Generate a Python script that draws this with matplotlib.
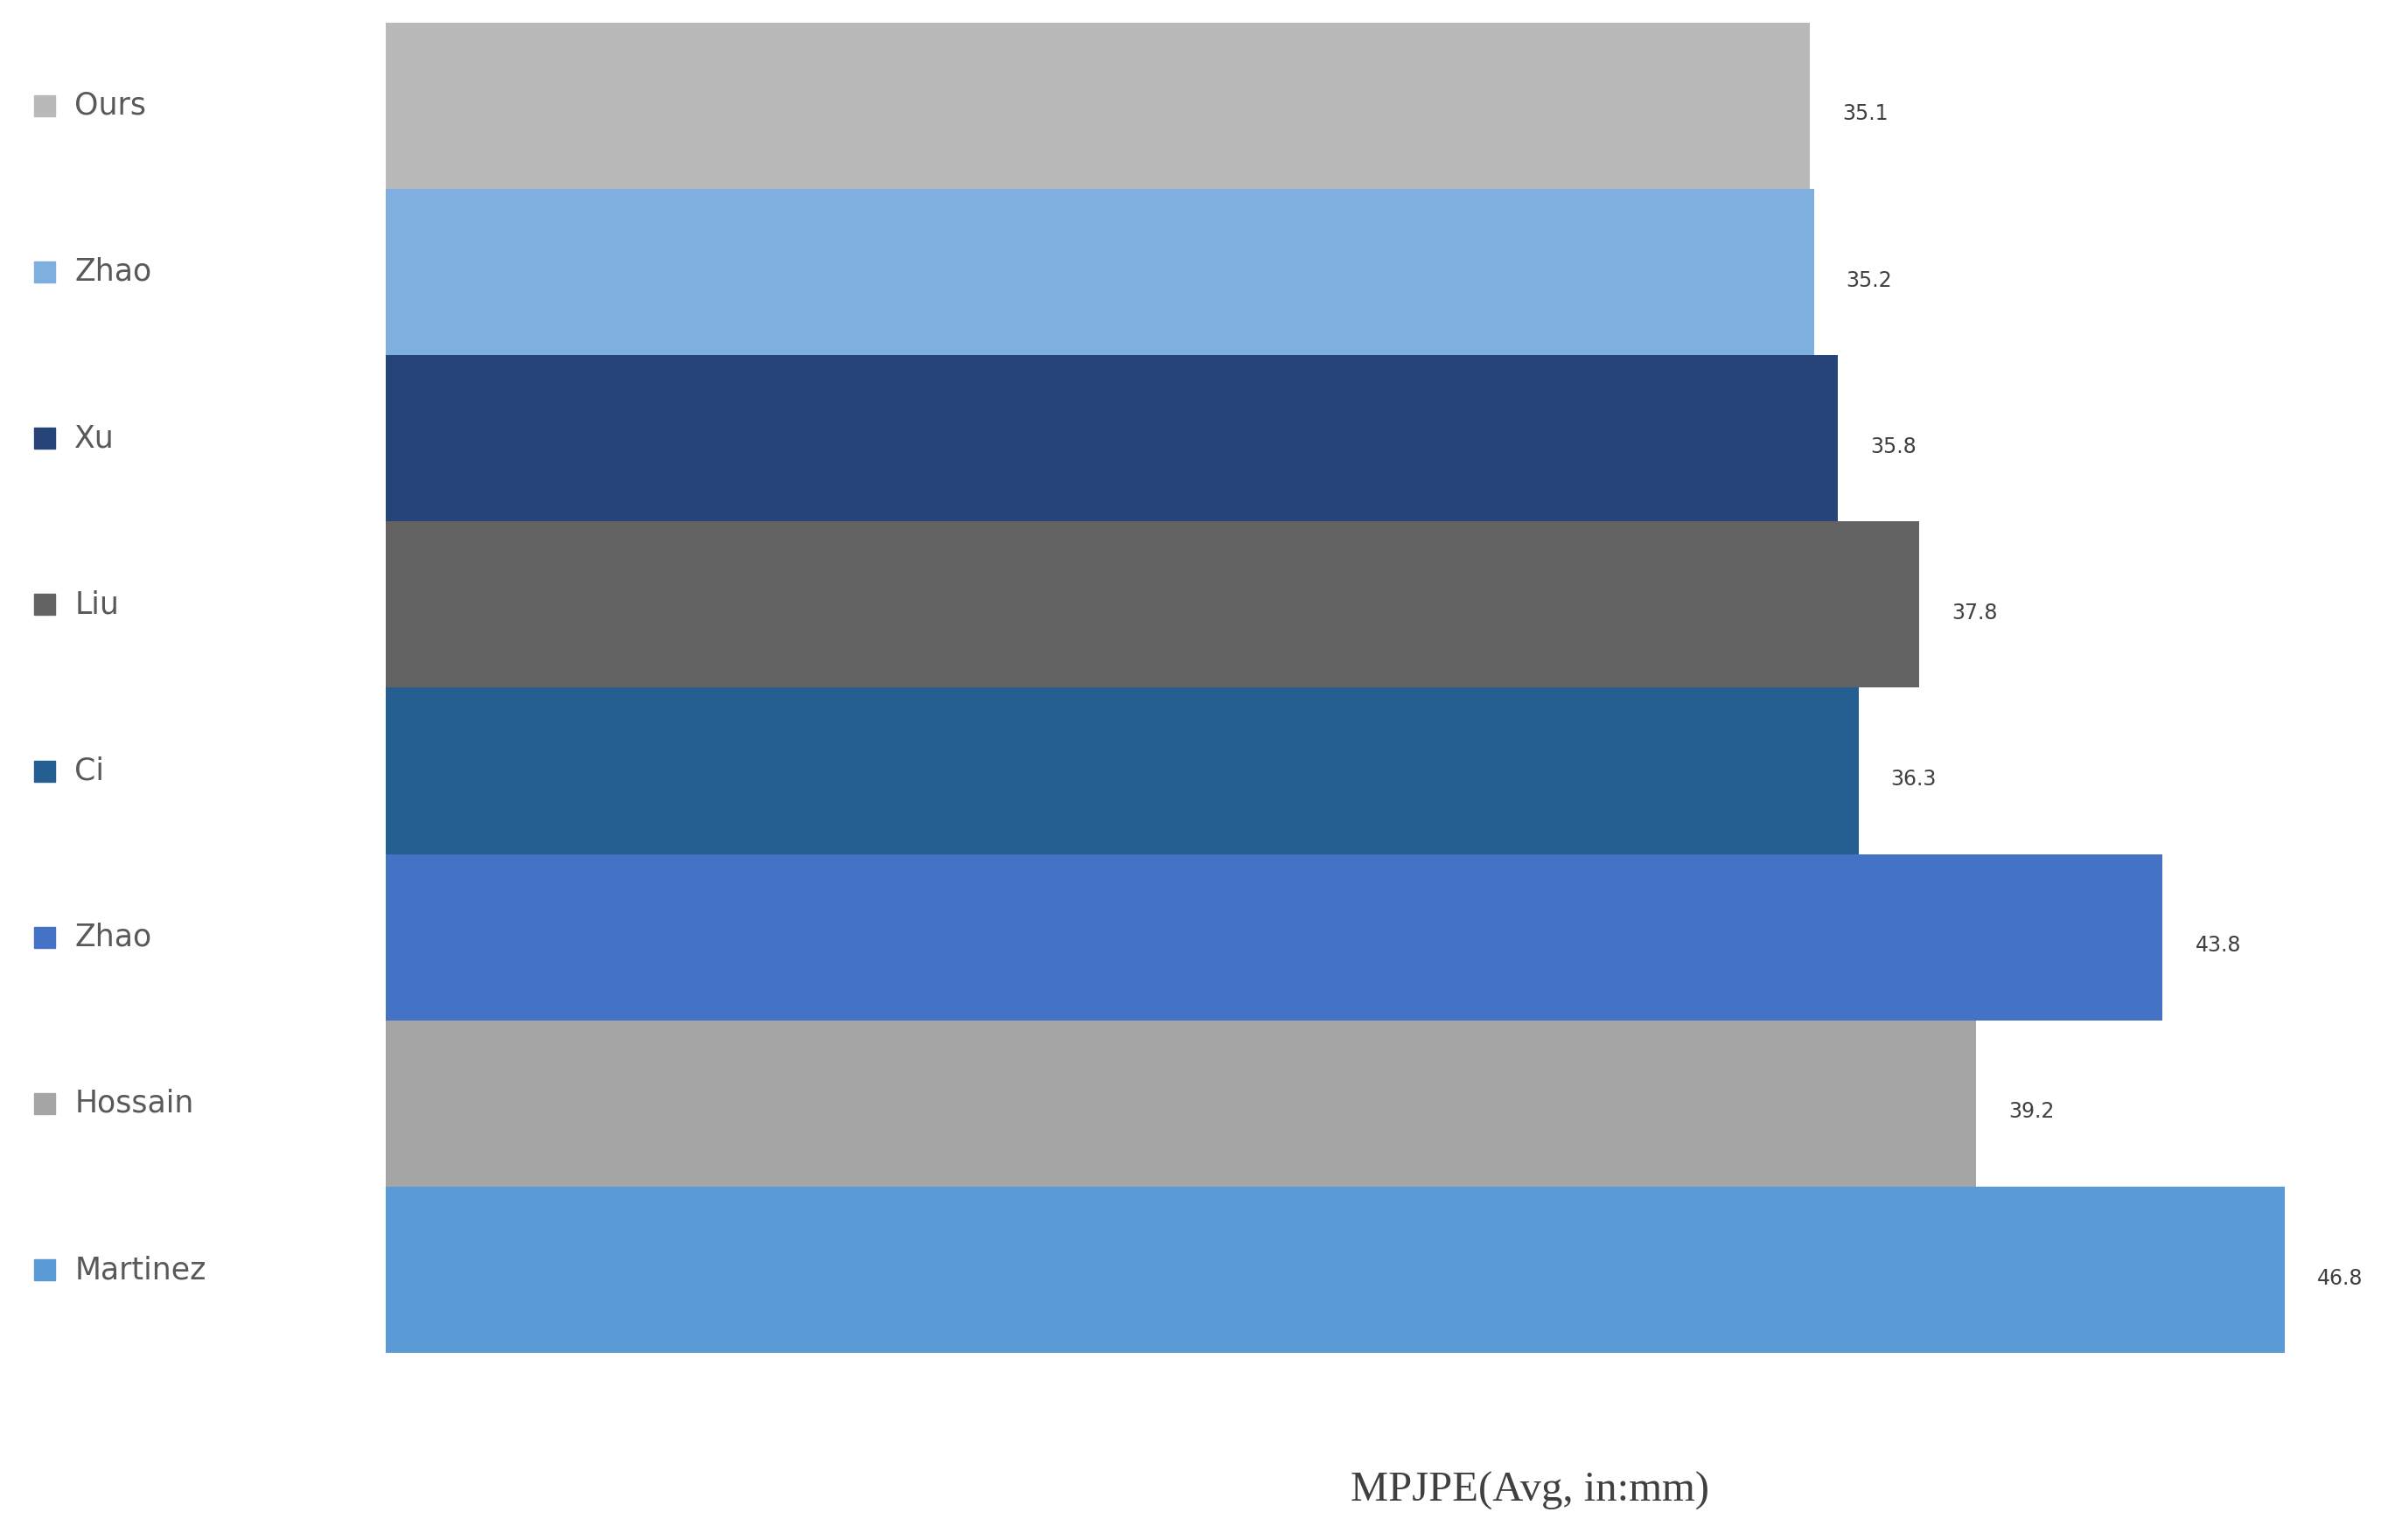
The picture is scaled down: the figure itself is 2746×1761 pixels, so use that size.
import matplotlib
matplotlib.use("Agg")
import matplotlib.pyplot as plt
from matplotlib.transforms import blended_transform_factory

methods = ["Ours", "Zhao", "Xu", "Liu", "Ci", "Zhao", "Hossain", "Martinez"]
values = [35.1, 35.2, 35.8, 37.8, 36.3, 43.8, 39.2, 46.8]
colors = ["#B9B9B9", "#7EAFDF", "#264478", "#636363", "#255E91", "#4472C4", "#A5A5A5", "#5B9BD5"]

fig = plt.figure(figsize=(27.46, 17.61), dpi=100)
ax = fig.add_axes([0.1606, 0.1214, 0.8394, 0.864])
y = list(range(len(methods)))
ax.barh(y, values, height=1.0, color=colors)
ax.set_ylim(len(methods) - 0.5, -0.5)
ax.set_xlim(0, 49.7)
for s in ax.spines.values():
    s.set_visible(False)
ax.set_xticks([]); ax.set_yticks([])
for i, v in enumerate(values):
    ax.text(v + 0.8, i + 0.05, f"{v}", va="center", ha="left", fontsize=17, color="#404040")
tr = blended_transform_factory(fig.transFigure, ax.transData)
for i, (m, c) in enumerate(zip(methods, colors)):
    ax.plot([0.0185], [i], marker="s", ms=17, color=c, transform=tr, clip_on=False)
    ax.text(0.031, i, m, transform=tr, va="center", ha="left", fontsize=25, color="#595959")
fig.text(0.637, 0.032, "MPJPE(Avg, in:mm)", ha="center", va="center",
         fontsize=35, family="Liberation Serif", color="#404040")
fig.savefig("out.png", dpi=100)
